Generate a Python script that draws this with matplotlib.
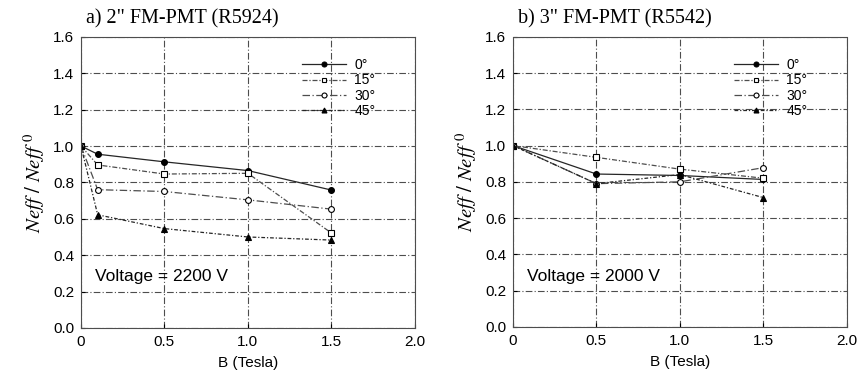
import numpy as np
import matplotlib
matplotlib.use("Agg")
import matplotlib.pyplot as plt

plt.rcParams['font.family'] = ['Liberation Sans', 'DejaVu Sans']
plt.rcParams['mathtext.fontset'] = 'stix'

# panel a) 2" FM-PMT (R5924)
b_a = [0.0, 0.1, 0.5, 1.0, 1.5]
a_0 = [1.0, 0.955, 0.913, 0.865, 0.758]
a_15 = [1.0, 0.896, 0.846, 0.85, 0.522]
a_30 = [1.0, 0.76, 0.75, 0.704, 0.653]
a_45 = [1.0, 0.622, 0.546, 0.50, 0.483]

# panel b) 3" FM-PMT (R5542)
b_b = [0.0, 0.5, 1.0, 1.5]
b_0 = [1.0, 0.843, 0.835, 0.813]
b_15 = [1.0, 0.935, 0.87, 0.82]
b_30 = [1.0, 0.79, 0.80, 0.878]
b_45 = [1.0, 0.79, 0.84, 0.713]

angles = ["0°", "15°", "30°", "45°"]
titles = ['a) 2" FM-PMT (R5924)', 'b) 3" FM-PMT (R5542)']
voltages = ["Voltage = 2200 V", "Voltage = 2000 V"]
xticks = [0, 0.5, 1.0, 1.5, 2.0]
xticklabels = ["0", "0.5", "1.0", "1.5", "2.0"]
yticks = np.arange(0, 1.61, 0.2)

styles = [
	dict(marker='o', mfc='black', ls='-', color='0.15'),
	dict(marker='s', mfc='white', ls=(0, (4, 1.5, 1, 1.5)), color='0.3'),
	dict(marker='o', mfc='white', ls=(0, (6, 2, 1, 2)), color='0.3'),
	dict(marker='^', mfc='black', ls=(0, (3, 1.5, 1, 1.5)), color='0.15'),
]

fig = plt.figure(figsize=(8.57, 3.84), dpi=100)
ax_a = fig.add_axes([0.0945, 0.146, 0.3895, 0.758])
ax_b = fig.add_axes([0.5986, 0.149, 0.3894, 0.755])

def draw(ax, x, series, title, volt):
	for i, y in enumerate(series):
		st = styles[i]
		ax.plot(x, y, ls=st['ls'], color=st['color'], lw=0.9, marker=st['marker'],
			markersize=4.2, markerfacecolor=st['mfc'], markeredgecolor='black',
			markeredgewidth=0.8, label=angles[i])
	ax.set_xlim(0, 2.0)
	ax.set_ylim(0, 1.6)
	ax.set_xticks(xticks)
	ax.set_xticklabels(xticklabels)
	ax.set_yticks(yticks)
	ax.set_yticklabels([f"{v:.1f}" for v in yticks])
	ax.tick_params(labelsize=11, length=3, direction='in', colors='black', pad=5)
	ax.grid(True, ls=(0, (6, 2, 1, 2)), color='0.3', lw=0.8)
	for s in ax.spines.values():
		s.set_linestyle((0, (2, 1)))
		s.set_linewidth(0.8)
		s.set_color('0.3')
	ax.set_xlabel("B (Tesla)", fontsize=11, labelpad=5)
	ax.set_ylabel(r"$Neff\ /\ Neff^{\ 0}$", fontsize=15, labelpad=4)
	ax.text(0.015, 1.03, title, transform=ax.transAxes, fontsize=14.5,
		family='Liberation Serif', ha='left', va='bottom')
	ax.text(0.085, 0.28, volt, fontsize=12.5, ha='left', va='center')
	ax.legend(loc='upper right', bbox_to_anchor=(0.92, 0.97), frameon=False,
		fontsize=10, handlelength=3.2, labelspacing=0.1, handletextpad=0.6,
		markerscale=0.85)

draw(ax_a, b_a, [a_0, a_15, a_30, a_45], titles[0], voltages[0])
draw(ax_b, b_b, [b_0, b_15, b_30, b_45], titles[1], voltages[1])

plt.savefig("out.png", dpi=100)
